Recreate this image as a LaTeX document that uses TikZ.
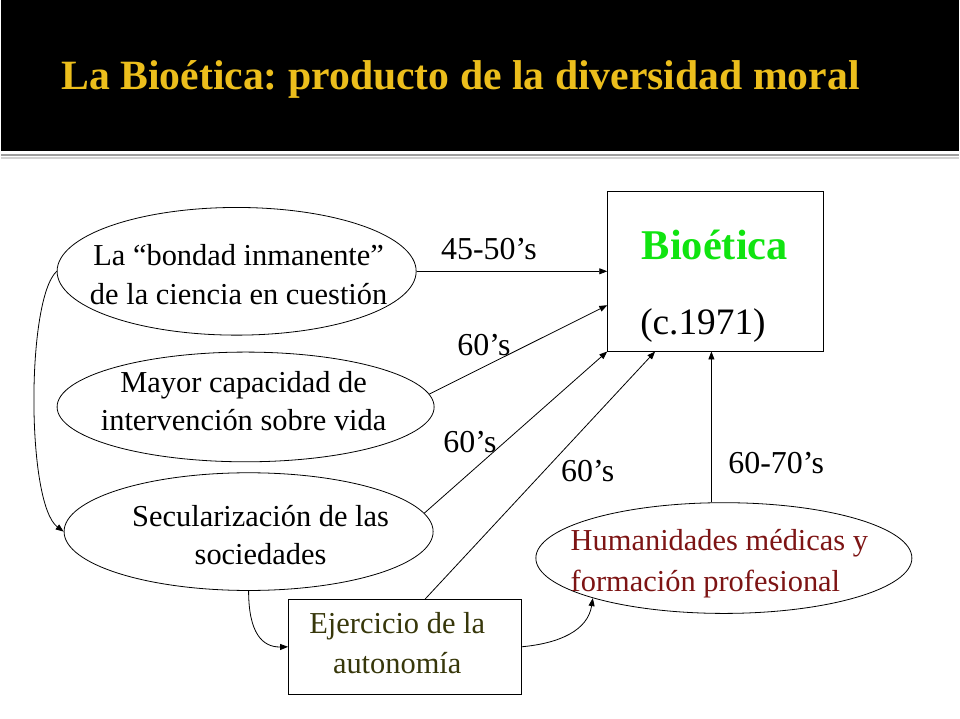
\documentclass[tikz,border=0pt]{standalone}
\usepackage{fontspec}
\setmainfont{Liberation Serif}
\usetikzlibrary{shapes.geometric,arrows.meta}
\definecolor{gold}{RGB}{236,190,28}
\definecolor{bgreen}{RGB}{16,228,16}
\definecolor{hred}{RGB}{125,20,20}
\definecolor{olivetxt}{RGB}{55,55,10}
\begin{document}
\frenchspacing
\begin{tikzpicture}[x=1pt,y=-1pt,
  ell/.style={draw, ellipse, line width=0.8pt, inner sep=0},
  boxnode/.style={draw, rectangle, line width=0.8pt, inner sep=0},
  arr/.style={-{Triangle[length=8pt,width=6pt]}, line width=0.8pt},
  txt/.style={align=center, inner sep=0, font=\fontsize{30.5}{39}\selectfont},
  lbl/.style={anchor=base, inner sep=0, font=\fontsize{32}{38}\selectfont},
  ]
\fill[white] (0,0) rectangle (960,720);
\fill[black] (0,0) rectangle (960,151);
\draw[gray!35, line width=2pt] (0,158) -- (960,158);
\draw[gray!75, line width=2.5pt] (0,155.5) -- (960,155.5);
\node[anchor=base west, inner sep=0, text=gold, font=\fontsize{41.8}{48}\selectfont\bfseries] (title) at (60,90) {La Bioética: producto de la diversidad moral};

% left ellipses
\node[ell, minimum width=360pt, minimum height=128pt] (e1) at (236,272) {};
\node[txt] (t1) at (238,275) {La “bondad inmanente”\\de la ciencia en cuestión};
\node[ell, minimum width=378pt, minimum height=110pt] (e2) at (245,408) {};
\node[txt, font=\fontsize{30.5}{38}\selectfont] (t2) at (243,402.5) {Mayor capacidad de\\intervención sobre vida};
\node[ell, minimum width=370pt, minimum height=118pt] (e3) at (248,533) {};
\node[txt, font=\fontsize{30.5}{38}\selectfont] (t3) at (260,536.5) {Secularización de las\\sociedades};

% Bioetica box
\node[boxnode, minimum width=216pt, minimum height=160pt] (bio) at (716,272) {};
\node[anchor=base, inner sep=0, text=bgreen, font=\fontsize{42.5}{48}\selectfont\bfseries] (bt) at (715.5,260) {Bioética};
\node[anchor=base, inner sep=0, font=\fontsize{37.4}{42}\selectfont] (ct) at (703.5,335) {(c.1971)};

% Humanidades ellipse
\node[ell, minimum width=377pt, minimum height=111pt] (hum) at (724.5,559.5) {};
\node[txt, align=left, text=hred, font=\fontsize{30.5}{41}\selectfont] (th) at (720,565) {Humanidades médicas y\\formación profesional};

% Ejercicio box
\node[boxnode, minimum width=233pt, minimum height=95pt] (ej) at (404.5,648.5) {};
\node[txt, text=olivetxt, font=\fontsize{30.5}{40}\selectfont] (tej) at (397,644.5) {Ejercicio de la\\autonomía};

% labels
\node[lbl] (l1) at (489,260) {45-50’s};
\node[lbl] (l2) at (484,356) {60’s};
\node[lbl] (l3) at (470,454) {60’s};
\node[lbl] (l4) at (588,483) {60’s};
\node[lbl] (l5) at (777,475) {60-70’s};

% connectors
\draw[arr] (e1.east) -- (bio.west |- e1.east);
\draw[arr] (e2.4) -- ([yshift=-34pt]bio.west);
\draw[arr] (e3.6) -- (bio.south west);
\draw[arr] ([xshift=20.5pt]ej.north) -- ([xshift=48pt]bio.south west);
\draw[arr] ([xshift=-12.5pt]hum.north) -- ([xshift=-12.5pt]hum.north |- bio.south);
\draw[arr] (e1.west) .. controls (25,300) and (25,505) .. (e3.west);
\draw[arr] (e3.south) .. controls (248,635) and (262,649) .. (ej.west);
\draw[arr] (ej.east) .. controls (560,645) and (588,632) .. (hum.197);
\end{tikzpicture}
\end{document}
